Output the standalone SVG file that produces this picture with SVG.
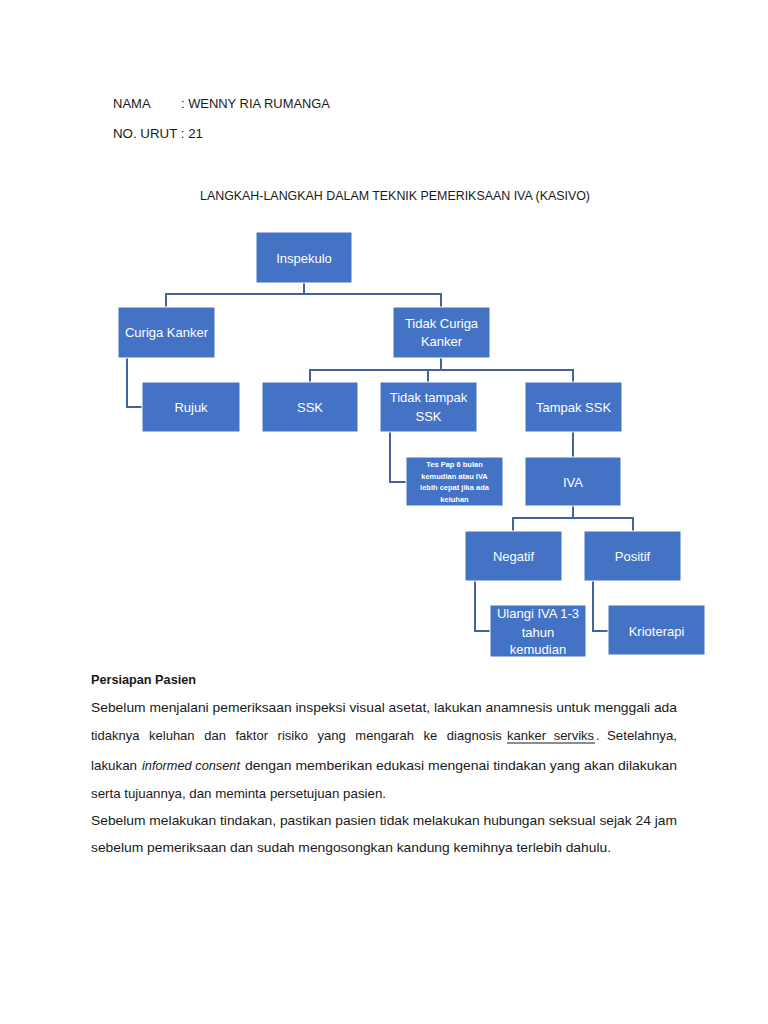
<svg xmlns="http://www.w3.org/2000/svg" width="768" height="1024" viewBox="0 0 768 1024">
<style>
.t{font-family:"Liberation Sans",Arial,sans-serif;fill:#1a1a1a}
.b{fill:#4472C4;stroke:#ffffff;stroke-width:1}
.bt{font-family:"Liberation Sans",Arial,sans-serif;fill:#ffffff;font-size:13px;text-anchor:middle}
.sm{font-family:"Liberation Sans",Arial,sans-serif;fill:#ffffff;font-size:7.5px;font-weight:bold;text-anchor:middle}
.c{fill:none;stroke:#41639F;stroke-width:2}
</style>
<rect width="768" height="1024" fill="#ffffff"/>
<g id="header">
<text class="t" x="113" y="108" font-size="13">NAMA</text>
<text class="t" x="181" y="108" font-size="13" textLength="149" lengthAdjust="spacingAndGlyphs">: WENNY RIA RUMANGA</text>
<text class="t" x="113" y="138" font-size="13" textLength="90" lengthAdjust="spacingAndGlyphs">NO. URUT : 21</text>
<text class="t" x="200" y="200" font-size="12" textLength="390" lengthAdjust="spacingAndGlyphs">LANGKAH-LANGKAH DALAM TEKNIK PEMERIKSAAN IVA (KASIVO)</text>
</g>
<g id="connectors">
<polyline class="c" points="304,283 304,294"/>
<polyline class="c" points="166,307 166,294 441,294 441,307"/>
<polyline class="c" points="127,358 127,407 143,407"/>
<polyline class="c" points="441,358 441,370"/>
<polyline class="c" points="310,382 310,370 573,370 573,382"/>
<polyline class="c" points="428,370 428,382"/>
<polyline class="c" points="390,432 390,482 406,482"/>
<polyline class="c" points="573,432 573,457"/>
<polyline class="c" points="573,506 573,518"/>
<polyline class="c" points="513,531 513,518 633,518 633,531"/>
<polyline class="c" points="475,581 475,631 490,631"/>
<polyline class="c" points="593,581 593,631 608,631"/>
</g>
<g id="n-inspekulo"><rect class="b" x="256" y="232" width="96" height="51"/><text class="bt" x="304" y="263">Inspekulo</text></g>
<g id="n-curiga"><rect class="b" x="118" y="307" width="97" height="51"/><text class="bt" x="166.5" y="337">Curiga Kanker</text></g>
<g id="n-tidakcuriga"><rect class="b" x="393" y="307" width="97" height="51"/><text class="bt" x="441.5" y="328">Tidak Curiga</text><text class="bt" x="441.5" y="346">Kanker</text></g>
<g id="n-rujuk"><rect class="b" x="142" y="382" width="98" height="50"/><text class="bt" x="191" y="412">Rujuk</text></g>
<g id="n-ssk"><rect class="b" x="262" y="382" width="96" height="50"/><text class="bt" x="310" y="412">SSK</text></g>
<g id="n-tidaktampak"><rect class="b" x="380" y="382" width="97" height="50"/><text class="bt" x="428.5" y="402">Tidak tampak</text><text class="bt" x="428.5" y="421">SSK</text></g>
<g id="n-tampak"><rect class="b" x="525" y="382" width="97" height="50"/><text class="bt" x="573.5" y="412">Tampak SSK</text></g>
<g id="n-tespap"><rect class="b" x="406" y="457" width="97" height="49"/>
<text class="sm" x="454.5" y="467">Tes Pap 6 bulan</text>
<text class="sm" x="454.5" y="479">kemudian atau IVA</text>
<text class="sm" x="454.5" y="490">lebih cepat jika ada</text>
<text class="sm" x="454.5" y="502">keluhan</text></g>
<g id="n-iva"><rect class="b" x="525" y="457" width="96" height="49"/><text class="bt" x="573" y="487">IVA</text></g>
<g id="n-negatif"><rect class="b" x="465" y="531" width="97" height="50"/><text class="bt" x="513.5" y="561">Negatif</text></g>
<g id="n-positif"><rect class="b" x="584" y="531" width="97" height="50"/><text class="bt" x="632.5" y="561">Positif</text></g>
<g id="n-ulangi"><rect class="b" x="490" y="605" width="96" height="52"/><text class="bt" x="538" y="618">Ulangi IVA 1-3</text><text class="bt" x="538" y="637">tahun</text><text class="bt" x="538" y="654">kemudian</text></g>
<g id="n-krioterapi"><rect class="b" x="608" y="605" width="97" height="50"/><text class="bt" x="656.5" y="636">Krioterapi</text></g>
<g id="body" class="t" font-size="13">
<text x="91" y="684" font-weight="bold" textLength="105" lengthAdjust="spacingAndGlyphs">Persiapan Pasien</text>
<text x="91" y="712" textLength="586" lengthAdjust="spacingAndGlyphs">Sebelum menjalani pemeriksaan inspeksi visual asetat, lakukan anamnesis untuk menggali ada</text>
<text x="91" y="740" word-spacing="6">tidaknya keluhan dan faktor risiko yang mengarah ke diagnosis</text>
<text x="507" y="740" word-spacing="4">kanker serviks</text>
<line x1="507" y1="743" x2="595" y2="743" stroke="#1a1a1a" stroke-width="1"/>
<text x="596" y="740">.</text>
<text x="607" y="740" textLength="70" lengthAdjust="spacingAndGlyphs">Setelahnya,</text>
<text x="91" y="770" textLength="46" lengthAdjust="spacingAndGlyphs">lakukan</text>
<text x="142" y="770" font-style="italic" textLength="98" lengthAdjust="spacingAndGlyphs">informed consent</text>
<text x="245" y="770" textLength="432" lengthAdjust="spacingAndGlyphs">dengan memberikan edukasi mengenai tindakan yang akan dilakukan</text>
<text x="91" y="798" textLength="295" lengthAdjust="spacingAndGlyphs">serta tujuannya, dan meminta persetujuan pasien.</text>
<text x="91" y="825" textLength="586" lengthAdjust="spacingAndGlyphs">Sebelum melakukan tindakan, pastikan pasien tidak melakukan hubungan seksual sejak 24 jam</text>
<text x="91" y="852" textLength="520" lengthAdjust="spacingAndGlyphs">sebelum pemeriksaan dan sudah mengosongkan kandung kemihnya terlebih dahulu.</text>
</g>
</svg>
